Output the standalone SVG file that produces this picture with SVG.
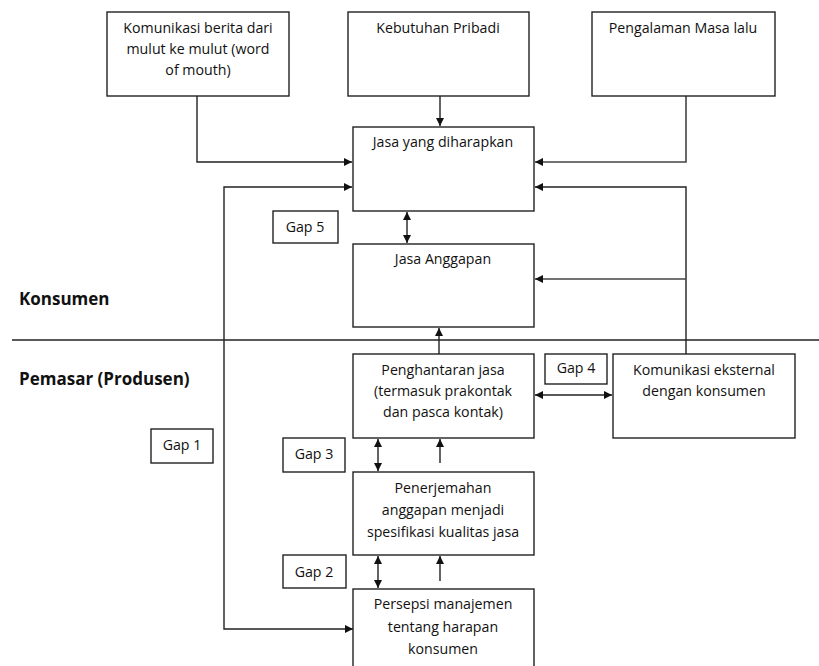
<svg xmlns="http://www.w3.org/2000/svg" width="819" height="666" viewBox="0 0 819 666">
<style>
.box{fill:#fff;stroke:#222;stroke-width:1.4}
.t{font-family:"Open Sans","Liberation Sans",Arial,sans-serif;font-size:14.2px;fill:#111;text-anchor:middle}
.h{font-family:"Open Sans","Liberation Sans",Arial,sans-serif;font-size:17px;font-weight:bold;fill:#111}
.c{fill:none;stroke:#222;stroke-width:1.4}
.g{fill:none;stroke:#444;stroke-width:1.6}
</style>
<defs>
<marker id="a" viewBox="0 0 10 10" refX="10" refY="5" markerWidth="8" markerHeight="8" markerUnits="userSpaceOnUse" orient="auto-start-reverse">
<path d="M0,0 L10,5 L0,10 z" fill="#111"/>
</marker>
</defs>
<rect width="819" height="666" fill="#fff"/>
<line x1="12" y1="340" x2="819" y2="340" stroke="#222" stroke-width="1.4"/>
<text class="h" x="19" y="305">Konsumen</text>
<text class="h" x="19" y="385">Pemasar (Produsen)</text>
<g id="connectors">
<path class="c" d="M197,96 V162 H352" marker-end="url(#a)"/>
<path class="c" d="M440,96 V126" marker-end="url(#a)"/>
<path class="c" d="M353,629 H224 V187 H352" marker-start="url(#a)" marker-end="url(#a)"/>
<path class="g" d="M686,96 V162 H535" marker-end="url(#a)"/>
<path class="c" d="M686,354 V187 H535" marker-end="url(#a)"/>
<path class="g" d="M686,279 H535" marker-end="url(#a)"/>
<path class="c" d="M407,212 V243" marker-start="url(#a)" marker-end="url(#a)"/>
<path class="c" d="M439,354 V328" marker-end="url(#a)"/>
<path class="c" d="M535,395 H612" marker-start="url(#a)" marker-end="url(#a)"/>
<path class="c" d="M378,439 V471" marker-start="url(#a)" marker-end="url(#a)"/>
<path class="c" d="M440,463 V439" marker-end="url(#a)"/>
<path class="c" d="M378,556 V588" marker-start="url(#a)" marker-end="url(#a)"/>
<path class="c" d="M440,581 V556" marker-end="url(#a)"/>
</g>
<g id="komunikasi-wom">
<rect class="box" x="107" y="12" width="182" height="84"/>
<text class="t" x="198" y="33">Komunikasi berita dari</text>
<text class="t" x="198" y="54">mulut ke mulut (word</text>
<text class="t" x="198" y="75">of mouth)</text>
</g>
<g id="kebutuhan">
<rect class="box" x="348" y="12" width="181" height="84"/>
<text class="t" x="438" y="33">Kebutuhan Pribadi</text>
</g>
<g id="pengalaman">
<rect class="box" x="592" y="12" width="183" height="84"/>
<text class="t" x="683" y="33">Pengalaman Masa lalu</text>
</g>
<g id="jasa-diharapkan">
<rect class="box" x="353" y="127" width="181" height="84"/>
<text class="t" x="443" y="147">Jasa yang diharapkan</text>
</g>
<g id="gap5">
<rect class="box" x="273" y="211" width="65" height="32"/>
<text class="t" x="305" y="232">Gap 5</text>
</g>
<g id="jasa-anggapan">
<rect class="box" x="353" y="244" width="181" height="83"/>
<text class="t" x="443" y="264">Jasa Anggapan</text>
</g>
<g id="penghantaran">
<rect class="box" x="353" y="354" width="181" height="84"/>
<text class="t" x="443" y="375">Penghantaran jasa</text>
<text class="t" x="443" y="396">(termasuk prakontak</text>
<text class="t" x="443" y="417">dan pasca kontak)</text>
</g>
<g id="gap4">
<rect class="box" x="545" y="354" width="62" height="30"/>
<text class="t" x="576" y="373">Gap 4</text>
</g>
<g id="komunikasi-eksternal">
<rect class="box" x="613" y="354" width="182" height="84"/>
<text class="t" x="704" y="375">Komunikasi eksternal</text>
<text class="t" x="704" y="396">dengan konsumen</text>
</g>
<g id="gap1">
<rect class="box" x="151" y="429" width="62" height="34"/>
<text class="t" x="182" y="450">Gap 1</text>
</g>
<g id="gap3">
<rect class="box" x="283" y="438" width="62" height="34"/>
<text class="t" x="314" y="459">Gap 3</text>
</g>
<g id="penerjemahan">
<rect class="box" x="353" y="472" width="181" height="83"/>
<text class="t" x="443" y="493">Penerjemahan</text>
<text class="t" x="443" y="515">anggapan menjadi</text>
<text class="t" x="443" y="537">spesifikasi kualitas jasa</text>
</g>
<g id="gap2">
<rect class="box" x="283" y="555" width="63" height="33"/>
<text class="t" x="314" y="577">Gap 2</text>
</g>
<g id="persepsi">
<rect class="box" x="353" y="589" width="181" height="90"/>
<text class="t" x="443" y="609">Persepsi manajemen</text>
<text class="t" x="443" y="632">tentang harapan</text>
<text class="t" x="443" y="654">konsumen</text>
</g>
</svg>
